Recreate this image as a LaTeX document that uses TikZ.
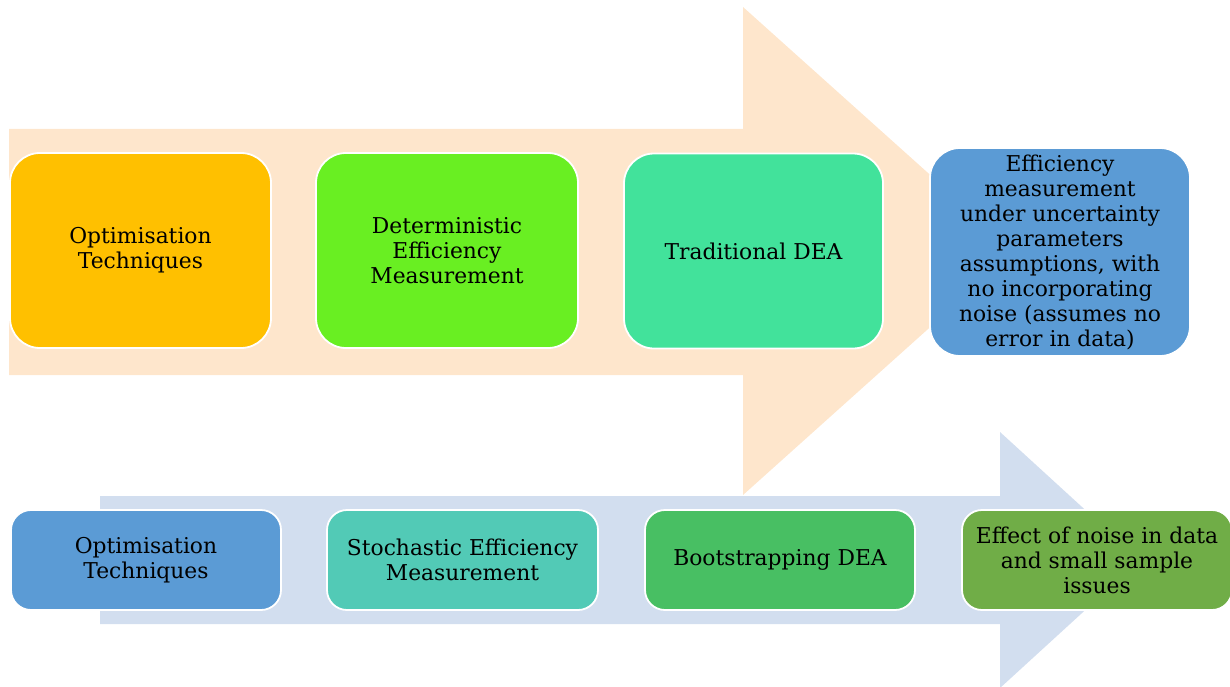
\documentclass[tikz,border=0pt]{standalone}
\usepackage{fontspec}
\setmainfont{DejaVu Serif}
\definecolor{peach}{HTML}{FEE6CC}
\definecolor{steelpale}{HTML}{D2DEEF}
\definecolor{cyellow}{HTML}{FFC000}
\definecolor{cgreen}{HTML}{69EF22}
\definecolor{cmint}{HTML}{42E29B}
\definecolor{cblue}{HTML}{5B9BD5}
\definecolor{cteal}{HTML}{52CAB6}
\definecolor{cmid}{HTML}{48BF63}
\definecolor{colive}{HTML}{70AD47}
\tikzset{
  box/.style={draw=white, line width=1.8pt, rounded corners=30pt, align=center,
    inner sep=0pt, font=\fontsize{21.8}{25}\selectfont, text=black},
  topbox/.style={box, minimum width=#1, minimum height=195pt},
  lowbox/.style={box, rounded corners=20pt, minimum width=270pt, minimum height=100pt},
}
\begin{document}
\begin{tikzpicture}[x=1pt,y=-1pt]
\useasboundingbox (0,0) rectangle (1230,687);
% background arrows
\fill[peach] (9,129) -- (743,129) -- (743,7) -- (1015,251) -- (743,495) -- (743,375) -- (9,375) -- cycle;
\fill[steelpale] (100,496) -- (1000,496) -- (1000,432) -- (1140,560) -- (1000,688) -- (1000,624) -- (100,624) -- cycle;
% top row
\node[topbox=261pt, fill=cyellow] (t1) at (140.5,250.5) {Optimisation\\Techniques};
\node[topbox=262pt, fill=cgreen] (t2) at (447,250.5) {Deterministic\\Efficiency\\Measurement};
\node[topbox=259pt, fill=cmint] (t3) at (753.5,251) {Traditional DEA};
\node[box, fill=cblue, minimum width=260pt, minimum height=208pt, rounded corners=30pt] (t4) at (1060,252)
  {Efficiency\\measurement\\under uncertainty\\parameters\\assumptions, with\\no incorporating\\noise (assumes no\\error in data)};
% bottom row
\node[lowbox, fill=cblue] (b1) at (146,560) {Optimisation\\Techniques};
\node[lowbox, fill=cteal, minimum width=271pt] (b2) at (462.5,560) {Stochastic Efficiency\\Measurement};
\node[lowbox, fill=cmid] (b3) at (780,560) {Bootstrapping DEA};
\node[lowbox, fill=colive] (b4) at (1097,560) {Effect of noise in data\\and small sample\\issues};
\end{tikzpicture}
\end{document}
